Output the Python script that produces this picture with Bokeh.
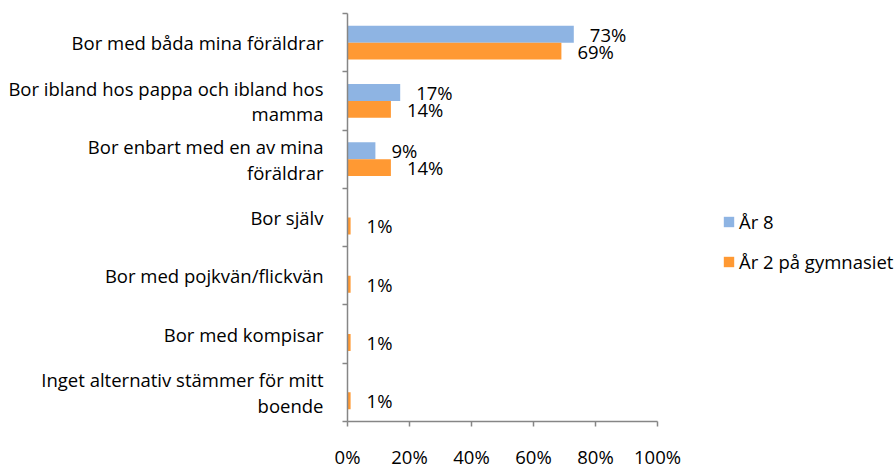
from bokeh.plotting import figure
from bokeh.models import Range1d, FixedTicker, PrintfTickFormatter, Legend, LegendItem, ColumnDataSource
from bokeh.embed import file_html
from bokeh.resources import INLINE
from bokeh.core.properties import value

categories = [
    "Bor med båda mina föräldrar",
    "Bor ibland hos pappa och ibland hos\nmamma",
    "Bor enbart med en av mina\nföräldrar",
    "Bor själv",
    "Bor med pojkvän/flickvän",
    "Bor med kompisar",
    "Inget alternativ stämmer för mitt\nboende",
]
ar8 = [73, 17, 9, 0, 0, 0, 0]
ar2 = [69, 14, 14, 1, 1, 1, 1]
series_names = ["År 8", "År 2 på gymnasiet"]
x_ticks = [0, 20, 40, 60, 80, 100]

BLUE = "#8EB4E3"
ORANGE = "#FF9933"
FONT = "Open Sans"
FS = "18.5px"
AXC = "#868686"

W, H = 896, 471
LEFT, RIGHT100 = 347, 657   # pixel of 0% and 100%
n = len(categories)
centers = [n - i - 0.5 for i in range(n)]
off = 0.145
bh = 0.29
x_end = 100 * (W - LEFT) / (RIGHT100 - LEFT)   # frame extends right to hold the legend

p = figure(width=W, height=H, output_backend="svg", toolbar_location=None,
           x_range=Range1d(0, x_end), y_range=Range1d(0, n),
           min_border_left=LEFT, min_border_right=0, min_border_top=13, min_border_bottom=48)
p.outline_line_color = None
p.xgrid.visible = False
p.ygrid.visible = False

src8 = ColumnDataSource(dict(y=[c + off for c in centers], v=ar8,
                             lab=[f"{v}%" if v > 0 else "" for v in ar8]))
src2 = ColumnDataSource(dict(y=[c - off for c in centers], v=ar2,
                             lab=[f"{v}%" if v > 0 else "" for v in ar2]))

r1 = p.hbar(y="y", left=0, right="v", height=bh, source=src8, fill_color=BLUE, line_color=None)
r2 = p.hbar(y="y", left=0, right="v", height=bh, source=src2, fill_color=ORANGE, line_color=None)

for s in (src8, src2):
    p.text(x="v", y="y", text="lab", source=s, x_offset=16, text_align="left",
           text_baseline="middle", text_font=value(FONT), text_font_size=FS, text_color="#000000")

ax = p.xaxis[0]
ax.ticker = FixedTicker(ticks=x_ticks)
ax.bounds = (0, 100)
ax.formatter = PrintfTickFormatter(format="%d%%")
ax.axis_line_color = AXC
ax.axis_line_width = 1.5
ax.major_tick_line_color = AXC
ax.major_tick_line_width = 1.5
ax.major_tick_out = 5
ax.major_tick_in = 0
ax.minor_tick_line_color = None
ax.major_label_standoff = 17
ax.major_label_text_font = FONT
ax.major_label_text_font_size = FS
ax.major_label_text_color = "#000000"

ay = p.yaxis[0]
ay.ticker = FixedTicker(ticks=centers, minor_ticks=list(range(n + 1)))
ay.major_label_overrides = {c: cat for c, cat in zip(centers, categories)}
ay.axis_line_color = AXC
ay.axis_line_width = 1.5
ay.major_tick_line_color = None
ay.major_tick_out = 0
ay.major_tick_in = 0
ay.minor_tick_line_color = AXC
ay.minor_tick_line_width = 1.5
ay.minor_tick_out = 5
ay.minor_tick_in = 0
ay.major_label_standoff = 19
ay.major_label_text_font = FONT
ay.major_label_text_font_size = FS
ay.major_label_text_color = "#000000"
ay.major_label_text_align = "center"
ay.major_label_text_line_height = 1.03

legend = Legend(items=[LegendItem(label=series_names[0], renderers=[r1]),
                       LegendItem(label=series_names[1], renderers=[r2])],
                location=(375, 147), orientation="vertical", glyph_width=13, glyph_height=13,
                label_standoff=4, spacing=15, padding=0, margin=0,
                border_line_color=None, background_fill_alpha=0,
                label_text_font=FONT, label_text_font_size=FS, label_text_color="#000000")
p.add_layout(legend)

open("out.html", "w").write(file_html(p, INLINE))
